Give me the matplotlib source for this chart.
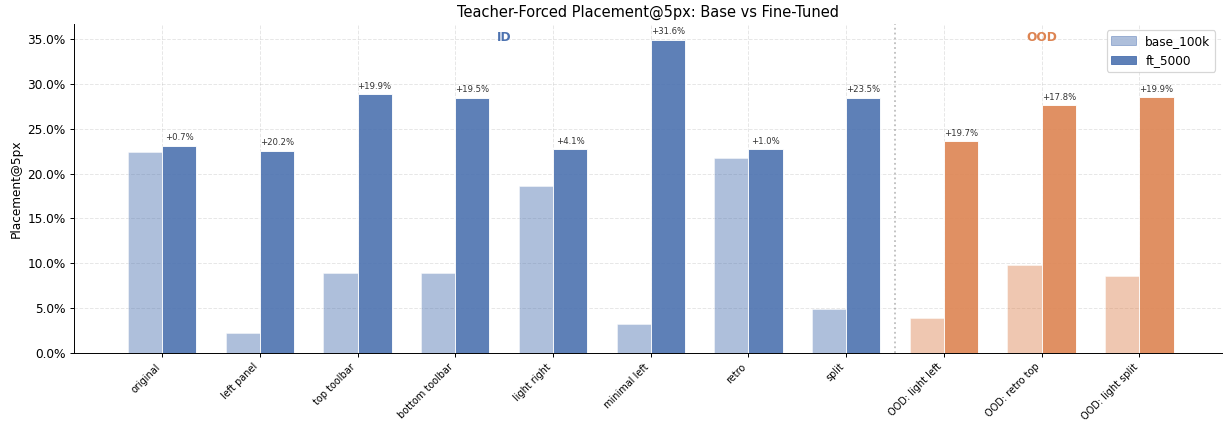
import matplotlib.pyplot as plt
import numpy as np
from matplotlib.ticker import PercentFormatter

layouts = ["original", "left panel", "top toolbar", "bottom toolbar", "light right",
           "minimal left", "retro", "split",
           "OOD: light left", "OOD: retro top", "OOD: light split"]
base_100k = [22.4, 2.3, 8.9, 8.9, 18.6, 3.3, 21.7, 4.9, 3.9, 9.8, 8.6]
ft_5000 = [23.1, 22.5, 28.8, 28.4, 22.7, 34.9, 22.7, 28.4, 23.6, 27.6, 28.5]
n_id = 8

blue = "#4C72B0"
orange = "#DD8452"

dpi = 1224 / 14
fig, ax = plt.subplots(figsize=(14, 425 / dpi), dpi=dpi)
fig.subplots_adjust(left=0.0605, right=0.998, top=0.9435, bottom=0.169)

x = np.arange(len(layouts))
w = 0.35
colors = [blue if i < n_id else orange for i in range(len(layouts))]

b1 = ax.bar(x - w / 2, base_100k, w, color=colors, alpha=0.45, edgecolor="white",
            linewidth=0.8, label="base_100k")
b2 = ax.bar(x + w / 2, ft_5000, w, color=colors, alpha=0.9, edgecolor="white",
            linewidth=0.8, label="ft_5000")

for i in range(len(layouts)):
    d = ft_5000[i] - base_100k[i]
    ax.annotate(f"{d:+.1f}%", (x[i] + w / 2, ft_5000[i]), xytext=(0, 3),
                textcoords="offset points", ha="center", va="bottom",
                fontsize=7, color="#333333")

ax.axvline(n_id - 0.5, color="gray", linestyle=":", alpha=0.5)
ax.text((n_id - 1) / 2, 0.96, "ID", transform=ax.get_xaxis_transform(),
        ha="center", va="center", color=blue, fontweight="bold", fontsize=10)
ax.text((n_id + len(layouts) - 1) / 2, 0.96, "OOD", transform=ax.get_xaxis_transform(),
        ha="center", va="center", color=orange, fontweight="bold", fontsize=10)

ax.set_xticks(x)
ax.set_xticklabels(layouts, rotation=45, ha="right", fontsize=8)
ax.set_xlim(-0.9, len(layouts) - 1 + 0.84)
ax.set_ylim(0, max(ft_5000) * 1.05)
ax.yaxis.set_major_formatter(PercentFormatter(decimals=1))
ax.set_ylabel("Placement@5px")
ax.set_title("Teacher-Forced Placement@5px: Base vs Fine-Tuned", fontsize=12)
ax.grid(True, linestyle="--", alpha=0.3)
ax.set_axisbelow(True)
ax.spines["top"].set_visible(False)
ax.spines["right"].set_visible(False)

leg = ax.legend(handles=[b1, b2], loc="upper right")
leg.legend_handles[0].set_color(blue)
leg.legend_handles[1].set_color(blue)

fig.savefig("out.png", dpi=dpi)
